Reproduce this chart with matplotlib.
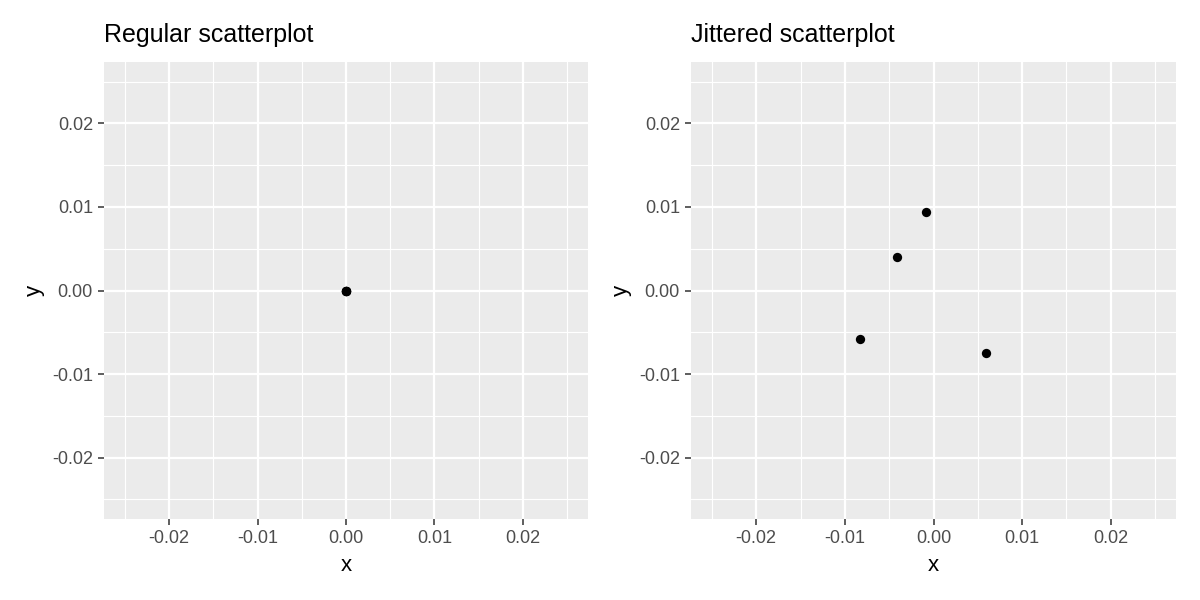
import matplotlib
matplotlib.use("Agg")
import matplotlib.pyplot as plt
import numpy as np

plt.rcParams['font.family'] = ['Liberation Sans', 'DejaVu Sans']

titles = ["Regular scatterplot", "Jittered scatterplot"]
reg_x = [0.0, 0.0, 0.0, 0.0]
reg_y = [0.0, 0.0, 0.0, 0.0]
jit_x = [-0.0008, -0.0041, -0.0083, 0.0059]
jit_y = [0.0094, 0.0040, -0.0058, -0.0075]
ticks = [-0.02, -0.01, 0.00, 0.01, 0.02]
tick_labels = ["-0.02", "-0.01", "0.00", "0.01", "0.02"]
minor_ticks = [-0.025, -0.015, -0.005, 0.005, 0.015, 0.025]
lim = 0.02735

fig = plt.figure(figsize=(12, 6), dpi=100)
positions = [[104/1200, 1-519/600, 484/1200, 457/600],
             [691/1200, 1-519/600, 485/1200, 457/600]]
data = [(reg_x, reg_y), (jit_x, jit_y)]

for pos, title, (xs, ys) in zip(positions, titles, data):
    ax = fig.add_axes(pos)
    ax.set_facecolor('#EBEBEB')
    for s in ax.spines.values():
        s.set_visible(False)
    ax.set_xlim(-lim, lim)
    ax.set_ylim(-lim, lim)
    ax.set_xticks(ticks)
    ax.set_xticklabels(tick_labels)
    ax.set_yticks(ticks)
    ax.set_yticklabels(tick_labels)
    ax.set_xticks(minor_ticks, minor=True)
    ax.set_yticks(minor_ticks, minor=True)
    ax.grid(which='major', color='white', linewidth=1.6)
    ax.grid(which='minor', color='white', linewidth=0.8)
    ax.set_axisbelow(True)
    ax.tick_params(which='major', length=4, width=1.1, color='#333333',
                   labelcolor='#4D4D4D', labelsize=13, pad=4)
    ax.tick_params(which='minor', length=0)
    ax.scatter(xs, ys, s=45, color='black', zorder=3, linewidths=0)
    ax.set_xlabel('x', fontsize=16, labelpad=6)
    ax.set_ylabel('y', fontsize=16, labelpad=5)
    ax.set_title(title, loc='left', fontsize=18, pad=14.5)

fig.savefig('out.png', dpi=100)
